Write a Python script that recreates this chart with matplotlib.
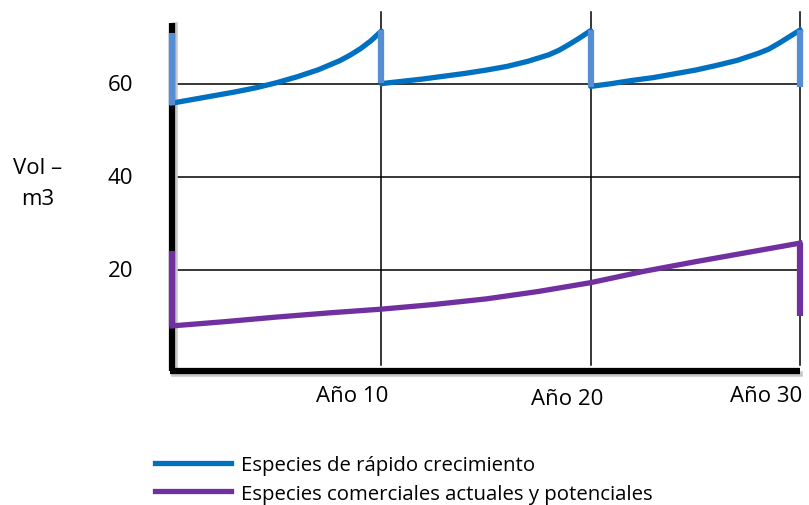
import matplotlib
matplotlib.use("Agg")
import matplotlib.pyplot as plt

plt.rcParams['font.family'] = ['Open Sans', 'DejaVu Sans']

# Especies de rápido crecimiento: tres ciclos de corta cada 10 años
rapido_anos = [0, 1, 2, 3, 4, 5, 6, 7, 8, 8.5, 9, 9.5, 10,
               10, 11, 12, 13, 14, 15, 16, 17, 18, 18.5, 19, 19.5, 20,
               20, 21, 22, 23, 24, 25, 26, 27, 28, 28.5, 29, 29.5, 30]
rapido_vol = [55.9, 56.7, 57.5, 58.3, 59.2, 60.3, 61.6, 63.1, 65.0, 66.2, 67.6, 69.3, 71.4,
              60.1, 60.6, 61.1, 61.7, 62.3, 63.0, 63.8, 64.9, 66.3, 67.3, 68.6, 70.0, 71.5,
              59.5, 60.1, 60.8, 61.4, 62.2, 63.0, 64.0, 65.1, 66.6, 67.5, 68.8, 70.2, 71.6]
# cortas (año, volumen antes, volumen después)
cortas_anos = [0, 10, 20, 30]
cortas_alto = [71.0, 71.6, 71.6, 71.6]
cortas_bajo = [55.5, 60.2, 59.4, 59.3]

# Especies comerciales actuales y potenciales
comercial_anos = [0, 2.5, 5, 7.5, 10, 12.5, 15, 17.5, 20, 22.5, 25, 27.5, 30]
comercial_vol = [8.0, 8.9, 9.9, 10.8, 11.6, 12.6, 13.8, 15.4, 17.3, 19.7, 21.8, 23.8, 25.8]
comercial_bar_anos = [0, 30]
comercial_bar_alto = [24.1, 25.8]
comercial_bar_bajo = [8.0, 10.1]

y_ticks = [20, 40, 60]
x_grid = [10, 20, 30]
x_labels = ['Año 10', 'Año 20', 'Año 30']
x_label_pos = [8.6, 18.9, 28.4]
x_label_y = [-7.0, -7.6, -7.0]

azul = '#0070C0'
azul_claro = '#558ED5'
morado = '#7030A0'

W, H = 809, 506
fig = plt.figure(figsize=(W / 100, H / 100), dpi=100)
ax = fig.add_axes([172 / W, (H - 372) / H, (800 - 172) / W, (372 - 13) / H])
ax.set_xlim(0, 30)
ax.set_ylim(-1.7, 75.5)
ax.axis('off')

# cuadrícula
for y in y_ticks:
    ax.plot([0, 30], [y, y], color='black', lw=1.1, zorder=1)
    ax.text(-2.45, y, str(y), ha='center', va='center', fontsize=16)
for x in x_grid:
    ax.plot([x, x], [-0.4, 75.5], color='black', lw=1.1, zorder=1, clip_on=False)

# ejes gruesos con una ligera sombra
ax.plot([0.12, 0.12], [-2.2, 72.6], color='#c8c8c8', lw=4, zorder=1, clip_on=False)
ax.plot([0.1, 30], [-2.3, -2.3], color='#c8c8c8', lw=4, zorder=1, clip_on=False)
ax.plot([0, 0], [-1.7, 73.1], color='black', lw=4.5, zorder=2, clip_on=False, solid_capstyle='butt')
ax.plot([-0.1, 30], [-1.7, -1.7], color='black', lw=4.5, zorder=2, clip_on=False, solid_capstyle='butt')

linea_rapido, = ax.plot(rapido_anos, rapido_vol, color=azul, lw=3.8, zorder=3,
                        solid_joinstyle='round', clip_on=False,
                        label='Especies de rápido crecimiento')
ax.vlines(cortas_anos, cortas_bajo, cortas_alto, color=azul_claro, lw=4.5, zorder=4, clip_on=False)

linea_comercial, = ax.plot(comercial_anos, comercial_vol, color=morado, lw=3.8, zorder=3,
                           solid_joinstyle='round', clip_on=False,
                           label='Especies comerciales actuales y potenciales')
ax.vlines(comercial_bar_anos, comercial_bar_bajo, comercial_bar_alto, color=morado, lw=4.5,
          zorder=4, clip_on=False)

for pos, yy, lab in zip(x_label_pos, x_label_y, x_labels):
    ax.text(pos, yy, lab, ha='center', va='center', fontsize=16)

fig.text(38 / W, 1 - 168 / H, 'Vol –', ha='center', va='center', fontsize=16)
fig.text(38 / W, 1 - 200 / H, 'm3', ha='center', va='center', fontsize=16)

fig.legend(handles=[linea_rapido, linea_comercial], loc='upper left',
           bbox_to_anchor=(155 / W, 1 - 456 / H), frameon=False, fontsize=14.7,
           handlelength=3.7, handletextpad=0.5, labelspacing=0.42,
           borderaxespad=0, borderpad=0)

fig.savefig('out.png', dpi=100)
